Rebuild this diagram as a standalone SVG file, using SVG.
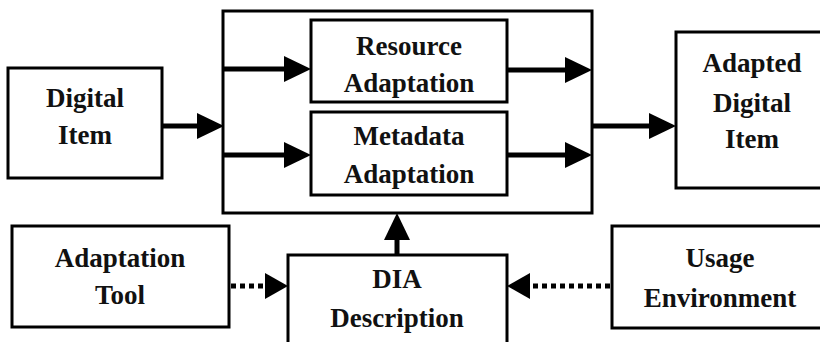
<svg xmlns="http://www.w3.org/2000/svg" width="820" height="342" viewBox="0 0 820 342">
<style>
.box{fill:#fff;stroke:#000;stroke-width:3}
.lbl{font-weight:bold;font-size:27px;fill:#111;text-anchor:middle}
.solid{stroke:#000;stroke-width:5;fill:none}
.dot{stroke:#000;stroke-width:5;fill:none;stroke-dasharray:5 4}
</style>
<defs>
<marker id="ah" markerUnits="userSpaceOnUse" markerWidth="28" markerHeight="27" refX="0" refY="13" orient="auto" viewBox="0 0 28 27">
<path d="M0,0 L27,13 L0,26 z" fill="#000"/>
</marker>
<marker id="ahs" markerUnits="userSpaceOnUse" markerWidth="24" markerHeight="27" refX="0" refY="13" orient="auto" viewBox="0 0 24 27">
<path d="M0,0 L23,13 L0,26 z" fill="#000"/>
</marker>
</defs>
<rect width="820" height="342" fill="#fff"/>
<g font-family="Liberation Serif, Times New Roman, serif">
<g id="outer"><rect class="box" x="223" y="11" width="369" height="202"/></g>
<g id="digital-item"><rect class="box" x="8" y="68" width="154" height="110"/>
<text class="lbl" x="85" y="107">Digital</text><text class="lbl" x="85" y="144">Item</text></g>
<g id="resource-adaptation"><rect class="box" x="311" y="20" width="196" height="82"/>
<text class="lbl" x="409" y="55">Resource</text><text class="lbl" x="409" y="92">Adaptation</text></g>
<g id="metadata-adaptation"><rect class="box" x="311" y="112" width="196" height="83"/>
<text class="lbl" x="409" y="145">Metadata</text><text class="lbl" x="409" y="183">Adaptation</text></g>
<g id="adapted-digital-item"><rect class="box" x="676" y="32" width="150" height="156"/>
<text class="lbl" x="752" y="72">Adapted</text><text class="lbl" x="752" y="112">Digital</text><text class="lbl" x="752" y="148">Item</text></g>
<g id="adaptation-tool"><rect class="box" x="12" y="226" width="217" height="101"/>
<text class="lbl" x="120" y="267">Adaptation</text><text class="lbl" x="120" y="304">Tool</text></g>
<g id="dia-description"><rect class="box" x="288" y="255" width="219" height="92"/>
<text class="lbl" x="397" y="288">DIA</text><text class="lbl" x="397" y="327">Description</text></g>
<g id="usage-environment"><rect class="box" x="612" y="226" width="214" height="102"/>
<text class="lbl" x="720" y="267">Usage</text><text class="lbl" x="720" y="307">Environment</text></g>
</g>
<g id="connectors">
<line class="solid" x1="162" y1="126" x2="197" y2="126" marker-end="url(#ah)"/>
<line class="solid" x1="224" y1="69" x2="284" y2="69" marker-end="url(#ah)"/>
<line class="solid" x1="224" y1="155" x2="284" y2="155" marker-end="url(#ah)"/>
<line class="solid" x1="507" y1="70" x2="565" y2="70" marker-end="url(#ah)"/>
<line class="solid" x1="507" y1="155" x2="565" y2="155" marker-end="url(#ah)"/>
<line class="solid" x1="592" y1="126" x2="649" y2="126" marker-end="url(#ah)"/>
<line class="solid" x1="397" y1="255" x2="397" y2="240" marker-end="url(#ah)"/>
<line class="dot" x1="231" y1="286" x2="265" y2="286" marker-end="url(#ahs)"/>
<line class="dot" x1="610" y1="286" x2="530" y2="286" marker-end="url(#ahs)"/>
</g>
</svg>
